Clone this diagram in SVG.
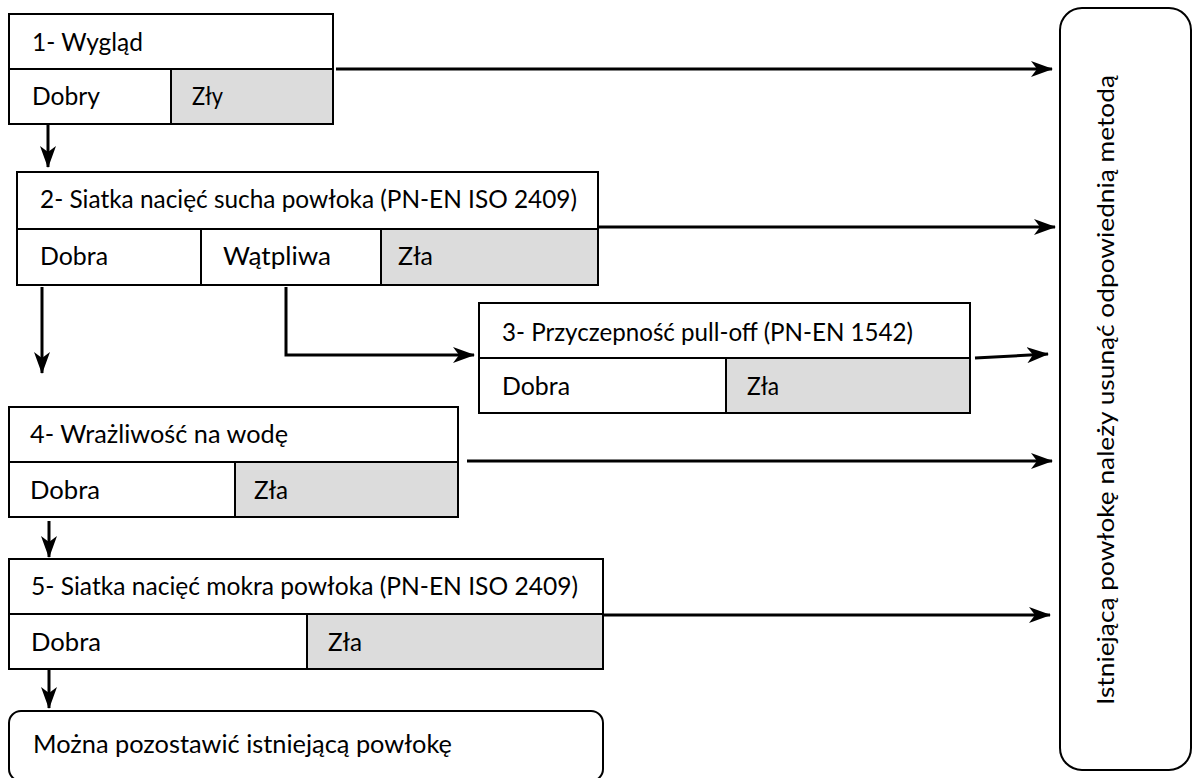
<svg xmlns="http://www.w3.org/2000/svg" width="1200" height="778" viewBox="0 0 1200 778">
<style>
.box{fill:#fff;stroke:#000;stroke-width:2}
.bad{fill:#dcdcdc;stroke:#000;stroke-width:2}
.ln{fill:none;stroke:#000;stroke-width:2}
.t{font-family:Lato,"Liberation Sans",sans-serif;font-size:25px;fill:#000}
.c{fill:none;stroke:#000;stroke-width:3}
</style>
<defs>
<marker id="ah" viewBox="0 0 22 16" refX="21" refY="8" markerWidth="22" markerHeight="16" markerUnits="userSpaceOnUse" orient="auto">
<path d="M0,0 L22,8 L0,16 L6,8 z" fill="#000"/>
</marker>
</defs>
<rect width="1200" height="778" fill="#fff"/>

<g id="connectors">
<line class="c" x1="336" y1="69" x2="1052" y2="69" marker-end="url(#ah)"/>
<line class="c" x1="48" y1="125" x2="48" y2="167" marker-end="url(#ah)"/>
<line class="c" x1="598" y1="227" x2="1055" y2="227" marker-end="url(#ah)"/>
<line class="c" x1="42" y1="287" x2="42" y2="373" marker-end="url(#ah)"/>
<polyline class="c" points="286,287 286,355 474,355" marker-end="url(#ah)"/>
<line class="c" x1="975" y1="358" x2="1048" y2="354" marker-end="url(#ah)"/>
<line class="c" x1="467" y1="461" x2="1052" y2="461" marker-end="url(#ah)"/>
<line class="c" x1="49" y1="521" x2="49" y2="557" marker-end="url(#ah)"/>
<line class="c" x1="561" y1="615" x2="1050" y2="615" marker-end="url(#ah)"/>
<line class="c" x1="49" y1="670" x2="49" y2="708" marker-end="url(#ah)"/>
</g>

<g id="n1">
<rect class="box" x="9" y="14" width="324" height="110"/>
<rect class="bad" x="171" y="69" width="162" height="55"/>
<line class="ln" x1="9" y1="69" x2="333" y2="69"/>
<text class="t" x="32" y="51" textLength="111" lengthAdjust="spacingAndGlyphs">1- Wygląd</text>
<text class="t" x="32" y="105" textLength="68" lengthAdjust="spacingAndGlyphs">Dobry</text>
<text class="t" x="192" y="105" textLength="31" lengthAdjust="spacingAndGlyphs">Zły</text>
</g>

<g id="n2">
<rect class="box" x="17" y="172" width="581" height="113"/>
<rect class="bad" x="381" y="229" width="217" height="56"/>
<line class="ln" x1="17" y1="229" x2="598" y2="229"/>
<line class="ln" x1="201" y1="229" x2="201" y2="285"/>
<text class="t" x="40" y="208" textLength="537" lengthAdjust="spacingAndGlyphs">2- Siatka nacięć sucha powłoka (PN-EN ISO 2409)</text>
<text class="t" x="40" y="265" textLength="68" lengthAdjust="spacingAndGlyphs">Dobra</text>
<text class="t" x="223" y="265" textLength="108" lengthAdjust="spacingAndGlyphs">Wątpliwa</text>
<text class="t" x="398" y="265" textLength="35" lengthAdjust="spacingAndGlyphs">Zła</text>
</g>

<g id="n3">
<rect class="box" x="479" y="303" width="491" height="110"/>
<rect class="bad" x="726" y="358" width="244" height="55"/>
<line class="ln" x1="479" y1="358" x2="970" y2="358"/>
<text class="t" x="502" y="341" textLength="411" lengthAdjust="spacingAndGlyphs">3- Przyczepność pull-off (PN-EN 1542)</text>
<text class="t" x="502" y="395" textLength="68" lengthAdjust="spacingAndGlyphs">Dobra</text>
<text class="t" x="747" y="395" textLength="32" lengthAdjust="spacingAndGlyphs">Zła</text>
</g>

<g id="n4">
<rect class="box" x="9" y="407" width="449" height="110"/>
<rect class="bad" x="235" y="462" width="223" height="55"/>
<line class="ln" x1="9" y1="462" x2="458" y2="462"/>
<text class="t" x="30" y="443" textLength="258" lengthAdjust="spacingAndGlyphs">4- Wrażliwość na wodę</text>
<text class="t" x="30" y="499" textLength="70" lengthAdjust="spacingAndGlyphs">Dobra</text>
<text class="t" x="254" y="499" textLength="34" lengthAdjust="spacingAndGlyphs">Zła</text>
</g>

<g id="n5">
<rect class="box" x="9" y="559" width="594" height="110"/>
<rect class="bad" x="307" y="614" width="296" height="55"/>
<line class="ln" x1="9" y1="614" x2="603" y2="614"/>
<text class="t" x="31" y="595" textLength="547" lengthAdjust="spacingAndGlyphs">5- Siatka nacięć mokra powłoka (PN-EN ISO 2409)</text>
<text class="t" x="31" y="651" textLength="70" lengthAdjust="spacingAndGlyphs">Dobra</text>
<text class="t" x="328" y="651" textLength="34" lengthAdjust="spacingAndGlyphs">Zła</text>
</g>

<g id="n6">
<rect class="box" x="9" y="711" width="594" height="70" rx="12" ry="12"/>
<text class="t" x="33" y="753" textLength="419" lengthAdjust="spacingAndGlyphs">Można pozostawić istniejącą powłokę</text>
</g>

<g id="n7">
<rect class="box" x="1060" y="8" width="131" height="762" rx="22" ry="22"/>
<text class="t" style="font-size:24px" transform="translate(1114,705) rotate(-90)" textLength="630" lengthAdjust="spacingAndGlyphs">Istniejącą powłokę należy usunąć odpowiednią metodą</text>
</g>
</svg>
